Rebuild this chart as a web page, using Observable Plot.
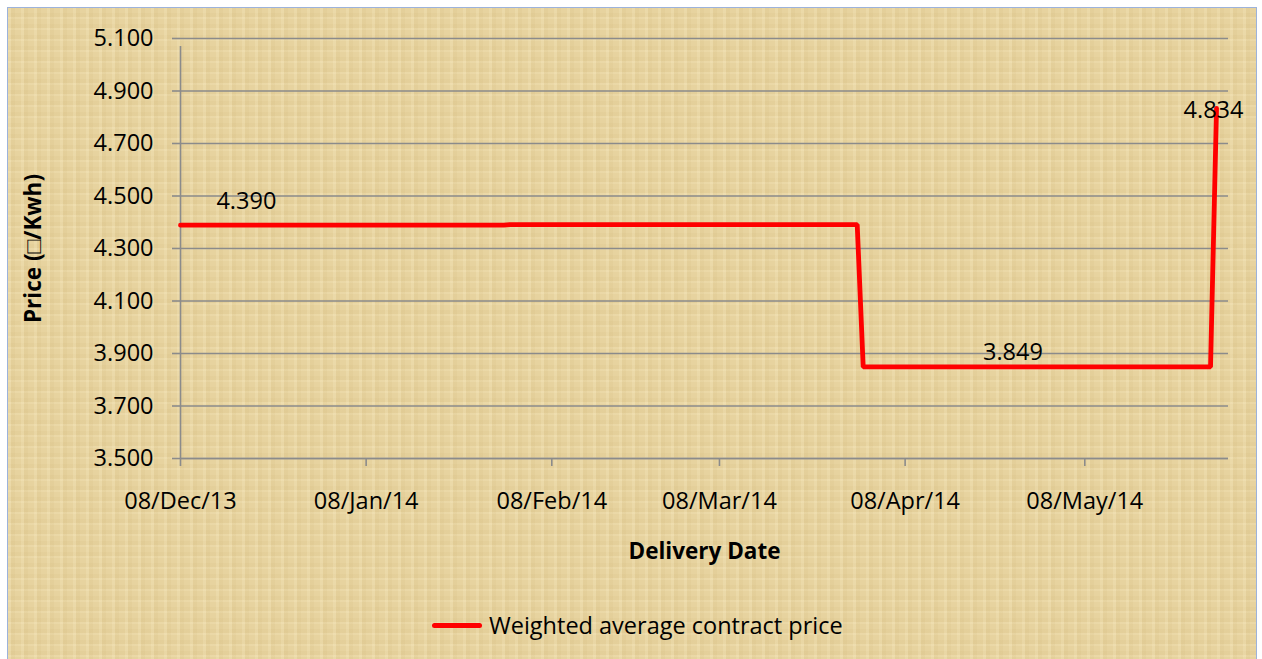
<!DOCTYPE html>
<html>
<head>
<meta charset="utf-8">
<script src="https://cdn.jsdelivr.net/npm/d3@7"></script>
<script src="https://cdn.jsdelivr.net/npm/@observablehq/plot@0.6"></script>
<style>
  html, body { margin: 0; padding: 0; background: #ffffff; }
  #frame {
    position: absolute; left: 7px; top: 7px; width: 1248px; height: 660px;
    border: 1px solid #9db3db;
    background-color: #e7d39f;
    background-image:
      repeating-linear-gradient(90deg, rgba(255,245,210,0.18) 0 3px, rgba(190,160,90,0.08) 3px 7px, rgba(255,245,210,0) 7px 13px),
      repeating-linear-gradient(0deg, rgba(255,245,210,0.15) 0 2px, rgba(190,160,90,0.07) 2px 6px, rgba(255,245,210,0) 6px 11px);
    font-family: "Open Sans", sans-serif;
    overflow: hidden;
  }
  #chart { position: absolute; left: 0; top: 0; }
  #legend {
    position: absolute; left: 424px; top: 601px; height: 32px;
    display: flex; align-items: center; gap: 7px;
    font-size: 23.5px; color: #000;
  }
  #legend .swatch { width: 50px; height: 5px; background: #ff0000; border-radius: 3px; }
</style>
</head>
<body>
<div id="frame">
  <div id="chart"></div>
  <div id="legend"><span class="swatch"></span><span>Weighted average contract price</span></div>
</div>
<script>
// ---- data ----
const dates = ["2013-12-08", "2014-01-31", "2014-02-01", "2014-03-31", "2014-04-01", "2014-05-29", "2014-05-30"];
const prices = [4.389, 4.389, 4.391, 4.391, 3.849, 3.849, 4.834];
const xTickDates = ["2013-12-08", "2014-01-08", "2014-02-08", "2014-03-08", "2014-04-08", "2014-05-08"];
const yTickValues = [3.5, 3.7, 3.9, 4.1, 4.3, 4.5, 4.7, 4.9, 5.1];
const labelDates = ["2013-12-19", "2014-04-26", "2014-05-30"];
const labelValues = [4.390, 3.849, 4.834];
const xDomain = ["2013-12-08", "2014-06-01"];
const yDomain = [3.5, 5.1];
const xTitle = "Delivery Date";
const yTitle = "Price (\u25A1/Kwh)";

const parse = d3.utcParse("%Y-%m-%d");
const data = dates.map((d, i) => ({date: parse(d), price: prices[i]}));
const labels = labelDates.map((d, i) => ({date: parse(d), price: labelValues[i]}));
const xTicks = xTickDates.map(parse);
const fmtX = d3.utcFormat("%d/%b/%y");
const fmtY = d3.format(".3f");
const grid = "#8b8b8b";
const fs = 23.5;

const chart = Plot.plot({
  width: 1248,
  height: 560,
  marginLeft: 172,
  marginRight: 28,
  marginTop: 30,
  marginBottom: 110,
  style: {background: "transparent", fontFamily: "'Open Sans', sans-serif", color: "#000", overflow: "visible"},
  x: {type: "utc", domain: xDomain.map(parse)},
  y: {domain: yDomain},
  marks: [
    Plot.gridY(yTickValues, {stroke: grid, strokeOpacity: 1, strokeWidth: 1.6}),
    Plot.axisY(yTickValues, {tickFormat: fmtY, tickSize: 8, tickPadding: 19, stroke: grid, strokeWidth: 1.6, fontSize: fs, label: null}),
    Plot.ruleX([parse(xDomain[0])], {y1: yDomain[0], y2: yDomain[1], stroke: grid, strokeWidth: 1.6, insetBottom: -8}),
    Plot.ruleY([yDomain[0]], {stroke: grid, strokeWidth: 1.6}),
    Plot.axisX(xTicks, {tickFormat: fmtX, tickSize: 8, tickPadding: 26, stroke: grid, strokeWidth: 1.6, fontSize: fs, label: null}),
    Plot.line(data, {x: "date", y: "price", stroke: "#ff0000", strokeWidth: 4.8, strokeLinejoin: "miter", strokeLinecap: "round"}),
    Plot.text(labels.slice(0, 1), {x: "date", y: "price", text: d => fmtY(d.price), fontSize: fs, dy: -23, fill: "#000"}),
    Plot.text(labels.slice(1, 2), {x: "date", y: "price", text: d => fmtY(d.price), fontSize: fs, dy: -14, fill: "#000"}),
    Plot.text(labels.slice(2, 3), {x: "date", y: "price", text: d => fmtY(d.price), fontSize: fs, dx: -3, dy: 2, fill: "#000"}),
    Plot.text([xTitle], {frameAnchor: "bottom", dy: 100, fontSize: 22.5, fontWeight: "bold", fill: "#000"}),
    Plot.text([yTitle], {frameAnchor: "left", textAnchor: "middle", dx: -147, rotate: -90, fontSize: 22.5, fontWeight: "bold", fill: "#000"})
  ]
});
document.getElementById("chart").appendChild(chart);
</script>
</body>
</html>
